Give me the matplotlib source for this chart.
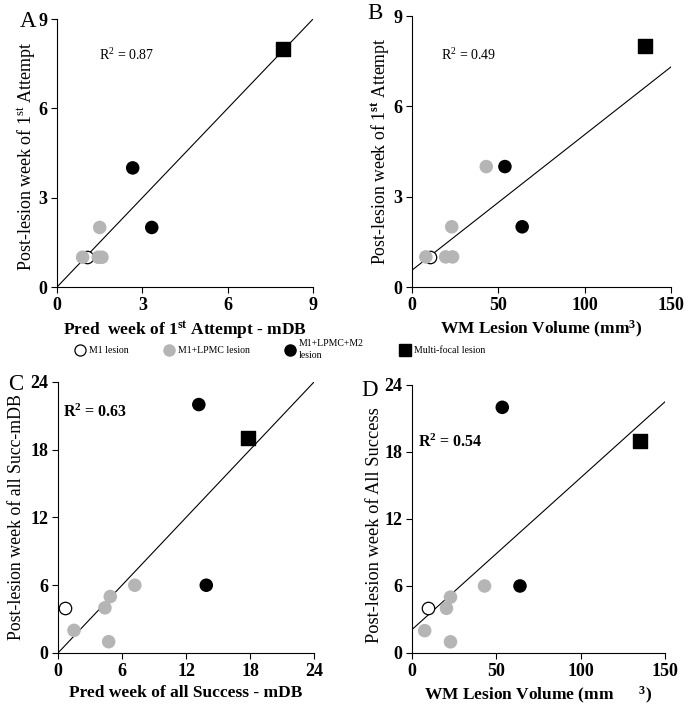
"""Four-panel lesion recovery scatter plots with regression lines."""

import matplotlib

matplotlib.use("Agg")
import matplotlib.pyplot as plt
from matplotlib.lines import Line2D
import numpy as np

plt.rcParams["font.family"] = ["Liberation Serif", "DejaVu Serif"]
plt.rcParams["mathtext.fontset"] = "custom"
plt.rcParams["mathtext.rm"] = "Liberation Serif"
plt.rcParams["mathtext.it"] = "Liberation Serif:italic"
plt.rcParams["mathtext.bf"] = "Liberation Serif:bold"

GRAY = "#b5b5b5"

# Panel A: predicted vs observed week of 1st attempt
a_m1_x, a_m1_y = [1.06], [1]
a_lpmc_x, a_lpmc_y = [0.9, 1.45, 1.58, 1.5], [1, 1, 1, 2]
a_m2_x, a_m2_y = [2.66, 3.33], [4, 2]
a_multi_x, a_multi_y = [7.94], [8]
a_fit = (1.0, 0.0)  # slope, intercept

# Panel B: WM lesion volume vs week of 1st attempt
b_m1_x, b_m1_y = [10.3], [1]
b_lpmc_x, b_lpmc_y = [8.0, 19.5, 23.5, 23.0, 43.0], [1, 1, 1, 2, 4]
b_m2_x, b_m2_y = [53.8, 63.8], [4, 2]
b_multi_x, b_multi_y = [135.0], [8]
b_fit = (0.045, 0.56)

# Panel C: predicted vs observed week of all success
c_m1_x, c_m1_y = [0.7], [4]
c_lpmc_x, c_lpmc_y = [1.5, 4.4, 4.9, 4.75, 7.2], [2, 4, 5, 1, 6]
c_m2_x, c_m2_y = [13.2, 13.9], [22, 6]
c_multi_x, c_multi_y = [17.8], [19]
c_fit = (1.0, 0.0)

# Panel D: WM lesion volume vs week of all success
d_m1_x, d_m1_y = [9.5], [4]
d_lpmc_x, d_lpmc_y = [7.5, 20.4, 22.8, 22.8, 43.0], [2, 4, 5, 1, 6]
d_m2_x, d_m2_y = [53.5, 64.0], [22, 6]
d_multi_x, d_multi_y = [134.9], [19]
d_fit = (0.136, 2.1)

legend_labels = ["M1 lesion", "M1+LPMC lesion", "M1+LPMC+M2\nlesion", "Multi-focal lesion"]


def draw_panel(ax, m1, lpmc, m2, multi, fit, xmax, ymax, xticks, yticks):
    ax.scatter(*lpmc, s=95, color=GRAY, edgecolor="none", zorder=3)
    ax.scatter(*m1, s=80, facecolor="white", edgecolor="black", linewidth=0.9, zorder=2)
    ax.scatter(*m2, s=95, color="black", edgecolor="none", zorder=3)
    ax.scatter(*multi, s=110, color="black", marker="s", zorder=3)
    xs = np.array([0, xmax])
    ax.plot(xs, fit[0] * xs + fit[1], color="black", linewidth=0.8, zorder=1)
    ax.set_xlim(0, xmax)
    ax.set_ylim(0, ymax)
    ax.set_xticks(xticks)
    ax.set_yticks(yticks)
    for s in ("top", "right"):
        ax.spines[s].set_visible(False)
    ax.tick_params(direction="out", length=4, width=0.8, labelsize=13, pad=3)
    for lab in ax.get_xticklabels() + ax.get_yticklabels():
        lab.set_fontweight("bold")


fig = plt.figure(figsize=(6.98, 7.12), dpi=100)
axA = fig.add_axes([0.0817, 0.5969, 0.3668, 0.3764])
axB = fig.add_axes([0.5903, 0.5969, 0.3710, 0.3806])
axC = fig.add_axes([0.0831, 0.0829, 0.3668, 0.3806])
axD = fig.add_axes([0.5903, 0.0829, 0.3625, 0.3764])

draw_panel(axA, (a_m1_x, a_m1_y), (a_lpmc_x, a_lpmc_y), (a_m2_x, a_m2_y),
           (a_multi_x, a_multi_y), a_fit, 9, 9, [0, 3, 6, 9], [0, 3, 6, 9])
draw_panel(axB, (b_m1_x, b_m1_y), (b_lpmc_x, b_lpmc_y), (b_m2_x, b_m2_y),
           (b_multi_x, b_multi_y), b_fit, 150, 9, [0, 50, 100, 150], [0, 3, 6, 9])
draw_panel(axC, (c_m1_x, c_m1_y), (c_lpmc_x, c_lpmc_y), (c_m2_x, c_m2_y),
           (c_multi_x, c_multi_y), c_fit, 24, 24, [0, 6, 12, 18, 24], [0, 6, 12, 18, 24])
draw_panel(axD, (d_m1_x, d_m1_y), (d_lpmc_x, d_lpmc_y), (d_m2_x, d_m2_y),
           (d_multi_x, d_multi_y), d_fit, 150, 24, [0, 50, 100, 150], [0, 6, 12, 18, 24])

axA.set_xlabel(r"Pred  week of 1$^{\mathbf{st}}$ Attempt - mDB", fontsize=12.5, fontweight="bold", labelpad=4)
axA.set_ylabel(r"Post-lesion week of 1$^{\mathrm{st}}$ Attempt", fontsize=13, labelpad=2)
axB.set_xlabel(r"WM Lesion Volume (mm$^{\mathbf{3}}$)", fontsize=12.5, fontweight="bold", labelpad=4)
axB.set_ylabel(r"Post-lesion week of 1$^{\mathbf{st}}$ Attempt", fontsize=12.8, labelpad=2)
axC.set_xlabel("Pred week of all Success - mDB", fontsize=12.5, fontweight="bold", labelpad=4)
axC.set_ylabel("Post-lesion week of all Succ-mDB", fontsize=12.8, labelpad=2)
axD.set_xlabel(r"WM Lesion Volume (mm      $^{\mathbf{3}}$)", fontsize=12.5, fontweight="bold", labelpad=4)
axD.set_ylabel("Post-lesion week of All Success", fontsize=13.2, labelpad=2)
axA.yaxis.set_label_coords(-0.08, 0.49)
axB.yaxis.set_label_coords(-0.08, 0.5)
axC.yaxis.set_label_coords(-0.129, 0.5)
axD.yaxis.set_label_coords(-0.115, 0.478)

axA.text(0.164, 0.866, r"R$^2$ = 0.87", transform=axA.transAxes, fontsize=10, va="center")
axB.text(0.112, 0.856, r"R$^2$ = 0.49", transform=axB.transAxes, fontsize=10, va="center")
axC.text(0.02, 0.889, r"R$^{\mathbf{2}}$ = 0.63", transform=axC.transAxes, fontsize=11.5,
         fontweight="bold", va="center")
axD.text(0.024, 0.787, r"R$^{\mathbf{2}}$ = 0.54", transform=axD.transAxes, fontsize=11.5,
         fontweight="bold", va="center")

letter_pos = {"A": (-0.08, 0.99), "B": (-0.112, 1.01), "C": (-0.137, 0.99), "D": (-0.134, 0.98)}
for ax, letter in zip((axA, axB, axC, axD), "ABCD"):
    lx, ly = letter_pos[letter]
    ax.text(lx, ly, letter, transform=ax.transAxes, fontsize=16.5, ha="right", va="center")

handles = [
    Line2D([], [], marker="o", linestyle="none", markersize=8, markerfacecolor="white",
           markeredgecolor="black", markeredgewidth=0.9),
    Line2D([], [], marker="o", linestyle="none", markersize=8, color=GRAY),
    Line2D([], [], marker="o", linestyle="none", markersize=8, color="black"),
    Line2D([], [], marker="s", linestyle="none", markersize=9, color="black"),
]
leg = fig.legend(handles, legend_labels, loc="center", bbox_to_anchor=(0.401, 0.509), ncol=4,
                 frameon=False, fontsize=7, handlelength=1.0, handletextpad=0.4,
                 columnspacing=3.7)
leg.get_texts()[2].set_linespacing(1.5)

fig.savefig("out.png", dpi=100)
